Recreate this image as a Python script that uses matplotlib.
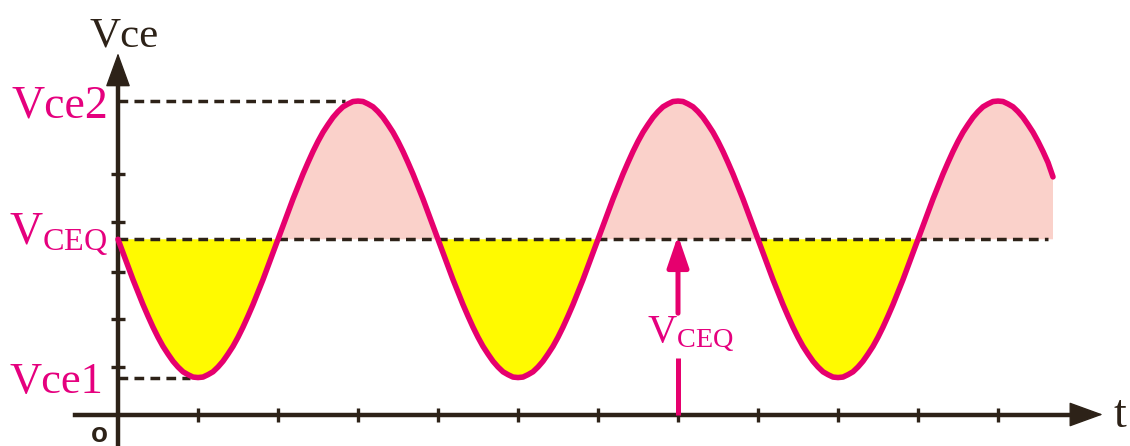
import numpy as np
import matplotlib
matplotlib.use('Agg')
import matplotlib.pyplot as plt

# waveform, one sample every 1/16 of a time tick
q_down = [3.65, 3.37, 3.09, 2.81, 2.55, 2.29, 2.05, 1.82, 1.61, 1.42, 1.26, 1.11, 0.99, 0.89, 0.83, 0.78]
q_up1 = [0.77, 0.78, 0.83, 0.89, 0.99, 1.11, 1.26, 1.42, 1.61, 1.82, 2.05, 2.29, 2.55, 2.81, 3.09, 3.37]
q_up2 = [3.65, 3.93, 4.21, 4.49, 4.75, 5.01, 5.25, 5.48, 5.69, 5.88, 6.04, 6.19, 6.31, 6.41, 6.47, 6.52]
q_dn2 = [6.53, 6.52, 6.47, 6.41, 6.31, 6.19, 6.04, 5.88, 5.69, 5.48, 5.25, 5.01, 4.75, 4.49, 4.21, 3.93]
q_end = [6.53, 6.52, 6.47, 6.41, 6.31, 6.19, 6.04, 5.88, 5.69, 5.48, 5.25, 4.95]
vce_vals = (q_down + q_up1 + q_up2 + q_dn2
            + q_down + q_up1 + q_up2 + q_dn2
            + q_down + q_up1 + q_up2 + q_end)
t = np.arange(len(vce_vals)) / 16
v = np.array(vce_vals)

vceq = 3.65
vce1 = 0.77
vce2 = 6.53
xticks = [1, 2, 3, 4, 5, 6, 7, 8, 9, 10, 11]
yticks = [0.99, 1.99, 2.97, 4.01, 5.01]

pink = '#E6006E'
pink_txt = '#E5007E'
dark = '#2D2218'
yellow = '#FFFA00'
rose = '#FAD1CA'

plt.rcParams['font.family'] = 'Liberation Serif'
plt.rcParams['mathtext.fontset'] = 'custom'
plt.rcParams['mathtext.rm'] = 'Liberation Serif'
plt.rcParams['mathtext.it'] = 'Liberation Serif:italic'
plt.rcParams['lines.scale_dashes'] = False

fig = plt.figure(figsize=(11.3, 4.46), dpi=100)
ax = fig.add_axes([0, 0, 1, 1])
ax.set_xlim(-1.475, 12.65)
ax.set_ylim(-0.656, 8.635)

# axes through the origin
for s in ['top', 'right']:
    ax.spines[s].set_visible(False)
ax.spines['left'].set_position(('data', 0))
ax.spines['bottom'].set_position(('data', 0))
ax.spines['left'].set_bounds(-0.7, 7.0)
ax.spines['bottom'].set_bounds(-0.54, 12.0)
for s in ['left', 'bottom']:
    ax.spines[s].set_linewidth(3.2)
    ax.spines[s].set_color(dark)
ax.set_xticks(xticks)
ax.set_yticks(yticks)
ax.tick_params(direction='inout', length=9.5, width=2.4, color=dark,
               labelbottom=False, labelleft=False)

head = dict(arrowstyle='-|>,head_length=2.2,head_width=0.8', mutation_scale=10,
            color=dark, lw=1, shrinkA=0, shrinkB=0)
ax.annotate('', xy=(12.31, 0), xytext=(11.7, 0), arrowprops=head)
ax.annotate('', xy=(0, 7.53), xytext=(0, 6.8), arrowprops=head)

# fills around the quiescent level
ax.fill_between(t, v, vceq, where=v <= vceq, interpolate=True, color=yellow, lw=0, zorder=1)
ax.fill_between(t, v, vceq, where=v >= vceq, interpolate=True, color=rose, lw=0, zorder=1)

dash = dict(color=dark, lw=2.5, dashes=(7, 4.5), zorder=2)
ax.plot([0, 2.84], [vce2, vce2], **dash)
ax.plot([0, 0.9], [vce1, vce1], **dash)
ax.plot([0, 11.63], [vceq, vceq], **dash)

ax.plot(t, v, color=pink, lw=4, solid_capstyle='round', solid_joinstyle='round', zorder=3)

# V_CEQ arrow at t = 7
ax.plot([7, 7], [0, 1.18], color=pink, lw=3.6, solid_capstyle='butt', zorder=3)
ax.annotate('', xy=(7, vceq + 0.08), xytext=(7, 2.11),
            arrowprops=dict(arrowstyle='-|>,head_length=1.9,head_width=0.65', mutation_scale=10,
                            color=pink, lw=3.6, shrinkA=0, shrinkB=0), zorder=3)
ax.text(6.61, 1.51, r'$\mathrm{V}_{\mathrm{CEQ}}$', color=pink_txt, fontsize=29, ha='left', va='baseline')

# labels
ax.text(-0.125, vce2 - 0.35, 'Vce2', color=pink_txt, fontsize=33, ha='right', va='baseline')
ax.text(-0.19, vce1 - 0.32, 'Vce1', color=pink_txt, fontsize=32, ha='right', va='baseline')
ax.text(-0.125, vceq - 0.12, r'$\mathrm{V}_{\mathrm{CEQ}}$', color=pink_txt, fontsize=33, ha='right', va='baseline')
ax.text(-0.35, 7.66, 'Vce', color=dark, fontsize=31, ha='left', va='baseline')
ax.text(12.44, -0.26, 't', color=dark, fontsize=33, ha='left', va='baseline')
ax.text(-0.23, -0.57, 'o', color=dark, fontsize=20, fontweight='bold', family='Liberation Sans',
        ha='center', va='baseline')

fig.savefig('out.png', dpi=100)
